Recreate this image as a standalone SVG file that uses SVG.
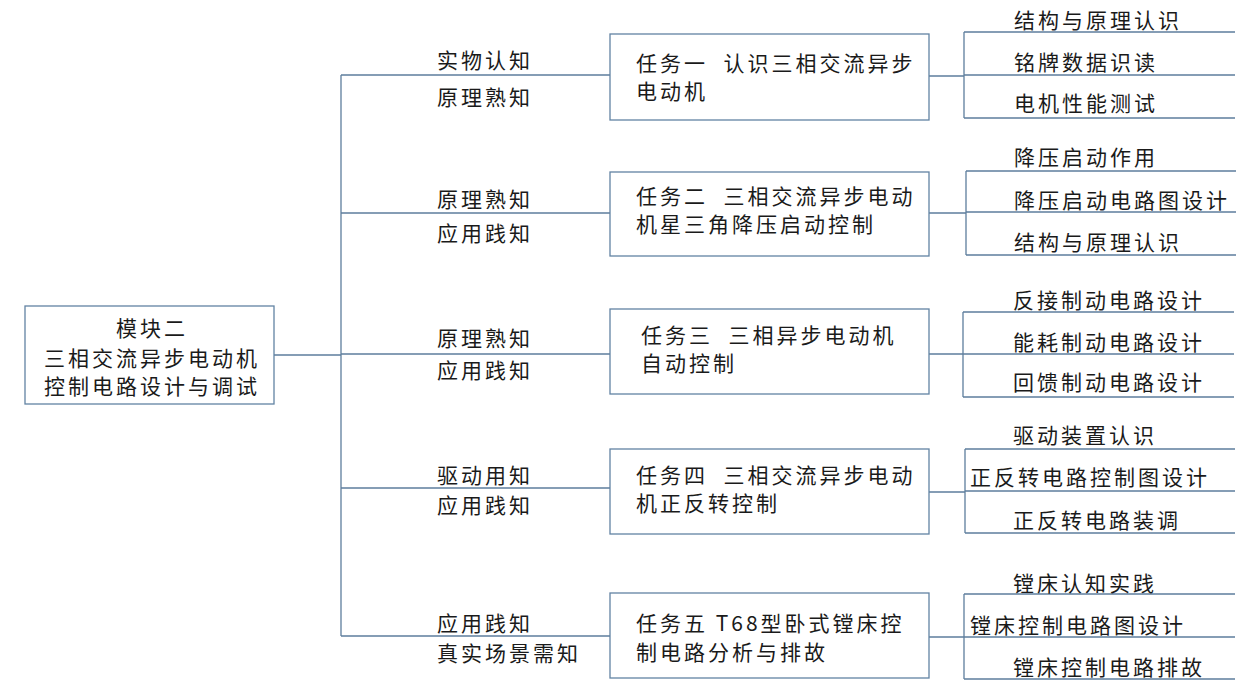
<svg xmlns="http://www.w3.org/2000/svg" width="1249" height="691" viewBox="0 0 1249 691">
<style>
.box{fill:#fff;stroke:#6283a3;stroke-width:1.3}
.ln{fill:none;stroke:#5e7e9d;stroke-width:1.3}
text{font-family:"Noto Sans CJK SC","Noto Sans",sans-serif;font-size:21px;fill:#1a1a1a;letter-spacing:3px}
.m{text-anchor:middle}
</style>
<rect width="1249" height="691" fill="#fff"/>
<g id="connectors">
<path class="ln" d="M274 355H341M341 75V636M341 75H610M341 213H610M341 354H610M341 488H610M341 636H610"/>
<path class="ln" d="M929 76H964M964 32V118M964 32H1235M964 75H1235M964 118H1235"/>
<path class="ln" d="M929 213H966M966 171V255M966 171H1236M966 212H1236M966 255H1236"/>
<path class="ln" d="M929 354H963M963 312V397M963 312H1234M963 354H1234M963 397H1234"/>
<path class="ln" d="M929 492H965M965 449V533M965 449H1235M965 491H1235M965 533H1235"/>
<path class="ln" d="M929 637H964M964 594V679M964 594H1235M964 637H1235M964 679H1235"/>
</g>
<g id="labels">
<text x="437" y="68">实物认知</text>
<text x="437" y="105">原理熟知</text>
<text x="437" y="207">原理熟知</text>
<text x="437" y="241">应用践知</text>
<text x="437" y="346">原理熟知</text>
<text x="437" y="378">应用践知</text>
<text x="437" y="483">驱动用知</text>
<text x="437" y="513">应用践知</text>
<text x="437" y="631">应用践知</text>
<text x="437" y="661">真实场景需知</text>
</g>
<g id="root">
<rect class="box" x="25" y="306" width="249" height="98"/>
<text class="m" x="152" y="336">模块二</text>
<text class="m" x="152" y="366">三相交流异步电动机</text>
<text class="m" x="152" y="394">控制电路设计与调试</text>
</g>
<g id="task1">
<rect class="box" x="610" y="34" width="319" height="86"/>
<text x="636" y="71">任务一&#160;&#160;认识三相交流异步</text>
<text x="636" y="99">电动机</text>
</g>
<g id="task2">
<rect class="box" x="610" y="172" width="319" height="84"/>
<text x="636" y="204">任务二&#160;&#160;三相交流异步电动</text>
<text x="636" y="232">机星三角降压启动控制</text>
</g>
<g id="task3">
<rect class="box" x="610" y="309" width="319" height="85"/>
<text x="641" y="343">任务三&#160;&#160;三相异步电动机</text>
<text x="641" y="371">自动控制</text>
</g>
<g id="task4">
<rect class="box" x="610" y="449" width="319" height="85"/>
<text x="636" y="483">任务四&#160;&#160;三相交流异步电动</text>
<text x="636" y="511">机正反转控制</text>
</g>
<g id="task5">
<rect class="box" x="610" y="593" width="319" height="85"/>
<text x="636" y="631">任务五&#160;T68型卧式镗床控</text>
<text x="636" y="660">制电路分析与排故</text>
</g>
<g id="leaves1">
<text x="1014" y="28">结构与原理认识</text>
<text x="1014" y="70">铭牌数据识读</text>
<text x="1014" y="111">电机性能测试</text>
</g>
<g id="leaves2">
<text x="1014" y="165">降压启动作用</text>
<text x="1014" y="208">降压启动电路图设计</text>
<text x="1014" y="250">结构与原理认识</text>
</g>
<g id="leaves3">
<text x="1013" y="308">反接制动电路设计</text>
<text x="1013" y="350">能耗制动电路设计</text>
<text x="1013" y="390">回馈制动电路设计</text>
</g>
<g id="leaves4">
<text x="1013" y="443">驱动装置认识</text>
<text x="970" y="485">正反转电路控制图设计</text>
<text x="1013" y="528">正反转电路装调</text>
</g>
<g id="leaves5">
<text x="1013" y="591">镗床认知实践</text>
<text x="970" y="633">镗床控制电路图设计</text>
<text x="1013" y="675">镗床控制电路排故</text>
</g>
</svg>
